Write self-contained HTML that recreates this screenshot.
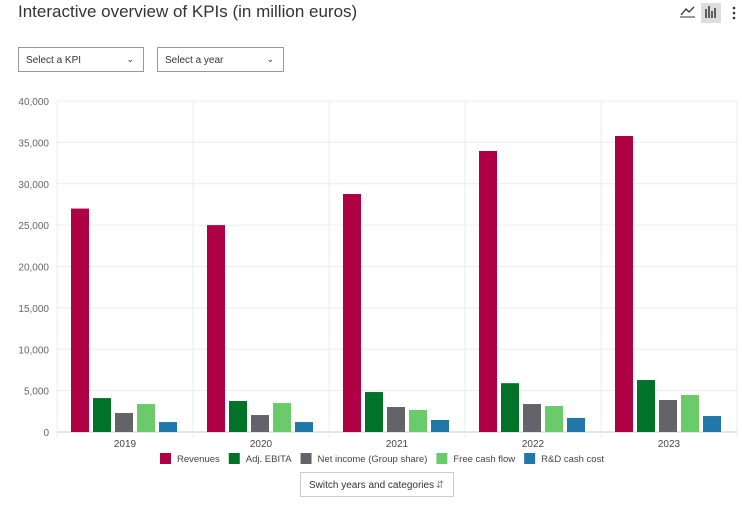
<!DOCTYPE html>
<html><head><meta charset="utf-8"><style>
body{margin:0;width:742px;height:509px;background:#fff;font-family:"Liberation Sans",sans-serif;overflow:hidden;position:relative}
.title{position:absolute;left:18px;top:2px;font-size:17px;color:#333}
.dd{position:absolute;top:47px;height:25px;width:124px;border:1px solid #999;font-size:10px;color:#333;line-height:25px;padding-left:7px;box-sizing:border-box}
.dd span{position:absolute;right:9px;top:-1px;font-size:9px}
.sw{position:absolute;left:300px;top:472px;width:154px;height:25px;border:1px solid #ccc;font-size:10px;color:#333;line-height:25px;padding-left:8px;box-sizing:border-box}
</style></head><body>
<div class="title">Interactive overview of KPIs (in million euros)</div>
<svg style="position:absolute;left:678px;top:2px" width="64" height="22">
<polyline points="3,13 8,7 11,10 16,5" fill="none" stroke="#333" stroke-width="1.3"/>
<line x1="2" y1="15" x2="17" y2="15" stroke="#333"/>
<rect x="23" y="1" width="20" height="20" fill="#ddd"/>
<g stroke="#333" stroke-width="1.5"><line x1="28" y1="16" x2="28" y2="7"/><line x1="31" y1="16" x2="31" y2="4"/><line x1="34" y1="16" x2="34" y2="9"/><line x1="37" y1="16" x2="37" y2="6"/></g>
<g fill="#333"><circle cx="56" cy="6" r="1.3"/><circle cx="56" cy="11" r="1.3"/><circle cx="56" cy="16" r="1.3"/></g>
</svg>
<div class="dd" style="left:18px;width:126px">Select a KPI<span>&#8964;</span></div>
<div class="dd" style="left:157px;width:127px">Select a year<span>&#8964;</span></div>
<svg id="c" style="position:absolute;left:0;top:0" width="742" height="470"></svg>
<div class="sw">Switch years and categories <span style="position:absolute;right:9px;color:#888">&#8693;</span></div>
<script>
const years=["2019","2020","2021","2022","2023"];
const seriesNames=["Revenues","Adj. EBITA","Net income (Group share)","Free cash flow","R&D cash cost"];
const revenues=[27000,25000,28760,33960,35770];
const ebita=[4100,3750,4830,5900,6280];
const netIncome=[2300,2050,3020,3380,3870];
const fcf=[3380,3500,2660,3140,4470];
const rd=[1200,1200,1450,1700,1930];
const yTicks=[0,5000,10000,15000,20000,25000,30000,35000,40000];
const colors=["#b00045","#007328","#636369","#6bcb6b","#1f78a8"];
const series=[revenues,ebita,netIncome,fcf,rd];
const svg=document.getElementById('c');const NS="http://www.w3.org/2000/svg";
const x0=57,x1=737,y0=432,y1=101,gw=(x1-x0)/years.length;
const Y=v=>y0-(v/40000)*(y0-y1);
function mk(t,a,txt){const e=document.createElementNS(NS,t);for(const k in a)e.setAttribute(k,a[k]);if(txt!=null)e.textContent=txt;svg.appendChild(e);return e;}
yTicks.forEach(v=>{const g=mk('line',{x1:x0,x2:x1,y1:Y(v),y2:Y(v),stroke:v?'#ececec':'#ccc'});


const t=mk('text',{x:49,y:Y(v)+4,'text-anchor':'end','font-size':10,fill:'#666'},v.toLocaleString('en-US'));

});
years.forEach((yr,i)=>{const gx=x0+i*gw;
const l=mk('line',{x1:gx,x2:gx,y1:y1,y2:y0+6,stroke:'#ececec'});


const t=mk('text',{x:gx+gw/2,y:447,'text-anchor':'middle','font-size':10,fill:'#444'},yr);


series.forEach((s,j)=>{const bx=gx+14+j*22;
const r=mk('rect',{x:bx,y:Y(s[i]),width:18,height:y0-Y(s[i]),fill:colors[j]});

});});
mk('line',{x1:x1,x2:x1,y1:y1,y2:y0+6,stroke:'#ececec'});
let lx=160;const lw=[];
seriesNames.forEach((n,j)=>{const r=mk('rect',{x:lx,y:453,width:11,height:11,fill:colors[j]});


const t=mk('text',{x:lx+17,y:462,'font-size':9.5,fill:'#444'},n);


lx+=17+t.getComputedTextLength()+9;});
</script>
</body></html>
